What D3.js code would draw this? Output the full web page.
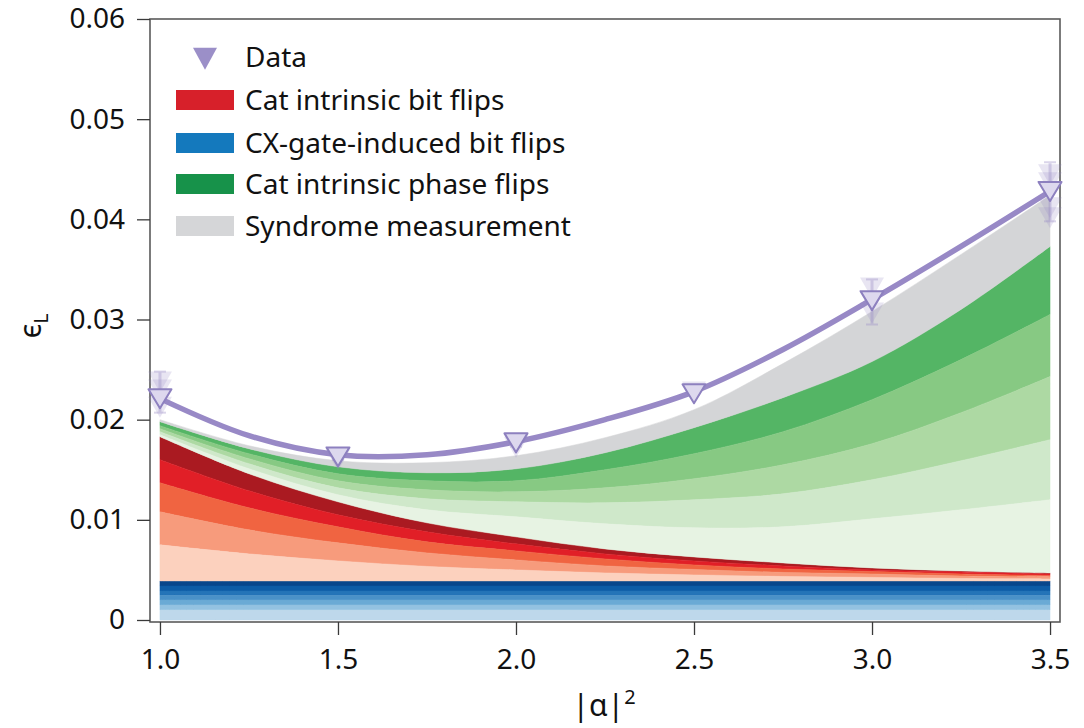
<!DOCTYPE html>
<html>
<head>
<meta charset="utf-8">
<script src="https://cdn.jsdelivr.net/npm/d3@7"></script>
<style>
  html, body { margin: 0; padding: 0; background: #fff; }
  svg { display: block; font-family: "Noto Sans", "Open Sans", sans-serif; }
</style>
</head>
<body>
<svg id="chart" width="1084" height="728"></svg>
<script>
// ---------------- data ----------------
const alpha2 = [1.0, 1.25, 1.5, 1.75, 2.0, 2.25, 2.5, 2.75, 3.0, 3.25, 3.5];

// CX-gate-induced bit flips: flat stripes (tops of each shade, top -> bottom)
const cxStripeTops = [0.0039, 0.0034, 0.0029, 0.00245, 0.0020, 0.0015, 0.0010];

// Cat intrinsic bit flips: cumulative boundaries (top -> bottom shade)
const redTop = [0.0183, 0.0146, 0.0118, 0.0097, 0.0083, 0.0071, 0.0063, 0.0057, 0.0052, 0.0049, 0.0047];
const red1   = [0.0160, 0.0129, 0.0105, 0.0088, 0.0076, 0.0066, 0.0059, 0.0054, 0.0050, 0.0048, 0.0046];
const red2   = [0.0137, 0.0112, 0.0093, 0.0078, 0.0069, 0.0061, 0.0055, 0.0051, 0.00485, 0.0046, 0.00445];
const red3   = [0.0108, 0.0090, 0.0077, 0.0067, 0.0060, 0.0054, 0.00505, 0.00475, 0.0046, 0.0044, 0.0043];
const red4   = [0.0075, 0.0066, 0.0059, 0.00535, 0.0050, 0.0047, 0.0045, 0.00435, 0.00425, 0.00415, 0.0041];

// Cat intrinsic phase flips: cumulative boundaries (top -> bottom shade)
const greenTop = [0.0198, 0.0171, 0.0153, 0.0147, 0.0151, 0.0167, 0.0192, 0.0222, 0.0258, 0.0310, 0.0373];
const green1   = [0.0194, 0.0166, 0.0146, 0.0139, 0.0139, 0.0150, 0.0166, 0.0188, 0.0220, 0.0260, 0.0305];
const green2   = [0.0191, 0.0161, 0.0139, 0.0130, 0.0128, 0.0132, 0.0141, 0.0155, 0.0176, 0.0207, 0.0243];
const green3   = [0.0188, 0.0156, 0.0132, 0.0121, 0.0118, 0.0117, 0.0120, 0.0126, 0.0140, 0.0159, 0.0180];
const green4   = [0.0185, 0.0151, 0.0125, 0.0110, 0.0103, 0.0096, 0.0092, 0.0093, 0.0101, 0.0110, 0.0120];

// Syndrome measurement: top of stack
const syndromeTop = [0.0200, 0.0174, 0.0159, 0.0157, 0.0164, 0.0182, 0.0210, 0.0256, 0.0308, 0.0365, 0.0424];

// Fit line through data
const fitLine = [0.0221, 0.0184, 0.0165, 0.0165, 0.0178, 0.0200, 0.0228, 0.0270, 0.0320, 0.0373, 0.0428];

// Data points (main) and faint repeated measurements
const dataX = [1.0, 1.5, 2.0, 2.5, 3.0, 3.5];
const dataY = [0.0224, 0.0166, 0.0180, 0.0229, 0.0322, 0.0431];
const faintX = [1.0, 1.0, 1.0, 1.5, 2.0, 2.5, 3.0, 3.0, 3.5, 3.5, 3.5, 3.5];
const faintY = [0.0241, 0.0233, 0.0216, 0.0163, 0.0176, 0.0231, 0.0335, 0.0310, 0.0448, 0.0440, 0.0415, 0.0405];
const errLow  = [0.0207, 0.0160, 0.0173, 0.0225, 0.0295, 0.0398];
const errHigh = [0.0248, 0.0170, 0.0185, 0.0234, 0.0340, 0.0457];

const xTicks = [1.0, 1.5, 2.0, 2.5, 3.0, 3.5];
const yTicks = [0, 0.01, 0.02, 0.03, 0.04, 0.05, 0.06];

const legendLabels = ["Data", "Cat intrinsic bit flips", "CX-gate-induced bit flips", "Cat intrinsic phase flips", "Syndrome measurement"];
const legendColors = ["#9b8fc8", "#d7202a", "#1479bd", "#17924a", "#d5d6d8"];

// ---------------- styles ----------------
const cxColors = ["#08468b", "#0d5ca6", "#2474b8", "#4a91c8", "#6aaad5", "#93c2e1", "#bed8eb"];
const redColors = ["#aa1a21", "#e11f27", "#f06441", "#f79b7c", "#fcd1be"];
const greenColors = ["#54b565", "#87c983", "#add9a3", "#cfe8ca", "#e7f3e3"];
const grayColor = "#d4d5d7";
const purple = "#9889c6";

// ---------------- chart ----------------
const svg = d3.select("#chart");
const L = 150, R = 1060, T = 19, B = 622;
const x = d3.scaleLinear().domain([0.972, 3.528]).range([L, R]);
const y = d3.scaleLinear().domain([-0.0002, 0.06]).range([B, T]);
const curve = d3.curveCatmullRom.alpha(0.5);

function band(top, bottom, color) {
  const pts = alpha2.map((a, i) => ({a, t: top[i], b: bottom[i]}));
  svg.append("path").datum(pts)
    .attr("fill", color)
    .attr("stroke", color).attr("stroke-width", 0.5)
    .attr("d", d3.area().curve(curve).x(d => x(d.a)).y0(d => y(d.b)).y1(d => y(d.t)));
}

// Blue stripes
cxStripeTops.forEach((t, i) => {
  const bot = i + 1 < cxStripeTops.length ? cxStripeTops[i + 1] : 0;
  band(alpha2.map(() => t), alpha2.map(() => bot), cxColors[i]);
});
const cxTop = alpha2.map(() => cxStripeTops[0]);
// Red bands
const redB = [redTop, red1, red2, red3, red4, cxTop];
for (let i = 0; i < 5; i++) band(redB[i], redB[i + 1], redColors[i]);
// Green bands
const greenB = [greenTop, green1, green2, green3, green4, redTop];
for (let i = 0; i < 5; i++) band(greenB[i], greenB[i + 1], greenColors[i]);
// Syndrome
band(syndromeTop, greenTop, grayColor);

// Frame
svg.append("rect").attr("x", L).attr("y", T).attr("width", R - L).attr("height", B - T)
  .attr("fill", "none").attr("stroke", "#5a5a5a").attr("stroke-width", 1.6);

// Axes
const yAxis = svg.append("g").attr("transform", `translate(${L},0)`)
  .call(d3.axisLeft(y).tickValues(yTicks).tickSize(13).tickPadding(12)
    .tickFormat(d => d === 0 ? "0" : d3.format(".2f")(d)));
const xAxis = svg.append("g").attr("transform", `translate(0,${B})`)
  .call(d3.axisBottom(x).tickValues(xTicks).tickSize(13).tickPadding(14)
    .tickFormat(d3.format(".1f")));
[yAxis, xAxis].forEach(g => {
  g.select(".domain").remove();
  g.selectAll(".tick line").attr("stroke", "#3a3a3a").attr("stroke-width", 1.3);
  g.selectAll(".tick text").attr("fill", "#111").style("font-size", "28px")
    .style("font-family", "'Noto Sans', sans-serif");
});

// Axis titles
svg.append("text").attr("x", 604).attr("y", 716).attr("text-anchor", "middle")
  .style("font-size", "30px").attr("fill", "#111")
  .html('|α|<tspan dy="-12" style="font-size:20px">2</tspan>');
svg.append("text").attr("transform", "translate(41,326) rotate(-90)").attr("text-anchor", "middle")
  .style("font-size", "30px").attr("fill", "#111")
  .html('ϵ<tspan dy="7" style="font-size:19px">L</tspan>');

// Fit line
svg.append("path").datum(alpha2.map((a, i) => [a, fitLine[i]]))
  .attr("fill", "none").attr("stroke", purple).attr("stroke-width", 5.5)
  .attr("stroke-linecap", "round")
  .attr("d", d3.line().curve(d3.curveCatmullRom).x(d => x(d[0])).y(d => y(d[1])));

// Triangle path (pointing down), centroid at origin
function tri(w, h) {
  return `M${-w/2},${-h/3}L${w/2},${-h/3}L0,${2*h/3}Z`;
}

// Error bars (faint)
const eg = svg.append("g").attr("opacity", 0.35);
dataX.forEach((a, i) => {
  eg.append("line").attr("x1", x(a)).attr("x2", x(a)).attr("y1", y(errLow[i])).attr("y2", y(errHigh[i]))
    .attr("stroke", purple).attr("stroke-width", 3);
  [errLow[i], errHigh[i]].forEach(v => eg.append("line")
    .attr("x1", x(a) - 6).attr("x2", x(a) + 6).attr("y1", y(v)).attr("y2", y(v))
    .attr("stroke", purple).attr("stroke-width", 2));
});
// Faint repeated markers
faintX.forEach((a, i) => {
  svg.append("path").attr("d", tri(24, 21))
    .attr("transform", `translate(${x(a)},${y(faintY[i])})`)
    .attr("fill", purple).attr("opacity", 0.22);
});
// Main markers
dataX.forEach((a, i) => {
  svg.append("path").attr("d", tri(23, 19))
    .attr("transform", `translate(${x(a)},${y(dataY[i])})`)
    .attr("fill", "#ddd8ee").attr("stroke", "#8d80bf").attr("stroke-width", 2)
    .attr("stroke-linejoin", "round");
});

// Legend
const lg = svg.append("g");
const rowY = [57, 100, 143, 184, 226];
legendLabels.forEach((lab, i) => {
  if (i === 0) {
    lg.append("path").attr("d", tri(24, 22)).attr("transform", `translate(205,${rowY[i] - 2})`)
      .attr("fill", legendColors[0]);
  } else {
    lg.append("rect").attr("x", 176).attr("y", rowY[i] - 10).attr("width", 58).attr("height", 20)
      .attr("fill", legendColors[i]);
  }
  lg.append("text").attr("x", 245).attr("y", rowY[i]).attr("dy", "0.35em")
    .style("font-size", "28px").attr("fill", "#111").text(lab);
});
</script>
</body>
</html>
